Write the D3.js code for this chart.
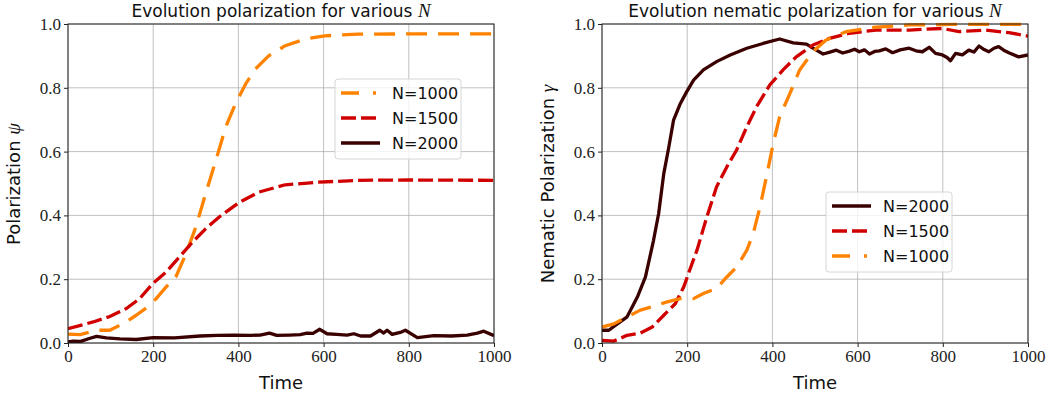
<!DOCTYPE html>
<html>
<head>
<meta charset="utf-8">
<script src="https://cdn.jsdelivr.net/npm/d3@7"></script>
<style>
  body { margin: 0; background: #fff; }
  svg text { fill: #111; }
</style>
</head>
<body>
<div id="chart"></div>
<script>
// tick labels
const xTicks = [0, 200, 400, 600, 800, 1000];
const yTicks = [0, 0.2, 0.4, 0.6, 0.8, 1.0];

// left panel: polarization psi  (time, value)
const polT1000 = [0, 28, 67, 98, 129, 160, 187, 207, 230, 253, 277, 300, 323, 347, 370, 393, 417, 440, 471, 510, 557, 603, 681, 800, 1000];
const polV1000 = [0.028, 0.026, 0.04, 0.04, 0.06, 0.087, 0.113, 0.139, 0.175, 0.207, 0.28, 0.363, 0.468, 0.572, 0.676, 0.75, 0.812, 0.859, 0.90, 0.932, 0.953, 0.963, 0.968, 0.969, 0.969];
const polT1500 = [0, 59, 98, 137, 168, 199, 230, 261, 292, 323, 355, 401, 448, 510, 588, 681, 798, 1000];
const polV1500 = [0.045, 0.066, 0.083, 0.108, 0.139, 0.186, 0.222, 0.269, 0.316, 0.358, 0.395, 0.44, 0.473, 0.496, 0.504, 0.51, 0.511, 0.51];
const polT2000 = [0, 12, 30, 50, 67, 90, 122, 160, 200, 250, 310, 350, 389, 430, 451, 473, 490, 520, 545, 561, 575, 591, 608, 630, 655, 671, 687, 710, 732, 741, 749, 761, 780, 792, 820, 859, 900, 937, 961, 976, 1000];
const polV2000 = [0.003, 0.006, 0.005, 0.014, 0.021, 0.016, 0.013, 0.011, 0.017, 0.016, 0.022, 0.024, 0.025, 0.024, 0.025, 0.031, 0.024, 0.025, 0.026, 0.031, 0.03, 0.043, 0.029, 0.027, 0.025, 0.029, 0.022, 0.022, 0.04, 0.031, 0.04, 0.027, 0.033, 0.04, 0.017, 0.023, 0.022, 0.025, 0.031, 0.037, 0.023];

// right panel: nematic polarization gamma
const nemT2000 = [0, 16, 36, 59, 83, 102, 121, 133, 145, 157, 168, 184, 199, 215, 238, 269, 301, 340, 378, 417, 449, 480, 503, 519, 535, 550, 565, 581, 593, 604, 616, 628, 640, 651, 666, 682, 700, 721, 737, 752, 768, 783, 799, 810, 818, 830, 846, 861, 873, 885, 897, 908, 920, 931, 943, 955, 978, 1000];
const nemV2000 = [0.04, 0.04, 0.06, 0.082, 0.144, 0.207, 0.322, 0.406, 0.531, 0.615, 0.699, 0.751, 0.788, 0.824, 0.856, 0.882, 0.903, 0.924, 0.939, 0.953, 0.941, 0.937, 0.918, 0.906, 0.912, 0.918, 0.909, 0.915, 0.921, 0.913, 0.919, 0.906, 0.914, 0.916, 0.922, 0.91, 0.919, 0.924, 0.916, 0.913, 0.927, 0.908, 0.903, 0.895, 0.885, 0.908, 0.903, 0.918, 0.912, 0.931, 0.92, 0.913, 0.924, 0.929, 0.918, 0.91, 0.897, 0.903];
const nemT1500 = [0, 28, 59, 90, 118, 145, 172, 192, 207, 223, 246, 269, 293, 316, 340, 363, 394, 425, 456, 495, 534, 581, 643, 721, 799, 838, 900, 955, 1000];
const nemV1500 = [0.008, 0.006, 0.024, 0.031, 0.05, 0.087, 0.123, 0.176, 0.233, 0.291, 0.395, 0.49, 0.552, 0.605, 0.678, 0.741, 0.809, 0.856, 0.897, 0.934, 0.955, 0.971, 0.981, 0.981, 0.986, 0.976, 0.981, 0.973, 0.962];
const nemT1000 = [0, 28, 59, 90, 121, 153, 184, 215, 238, 269, 293, 316, 340, 355, 371, 386, 402, 417, 441, 464, 495, 526, 573, 643, 721, 850, 1000];
const nemV1000 = [0.05, 0.06, 0.082, 0.103, 0.115, 0.129, 0.139, 0.139, 0.155, 0.171, 0.207, 0.238, 0.291, 0.343, 0.427, 0.521, 0.626, 0.709, 0.782, 0.856, 0.913, 0.95, 0.976, 0.99, 0.997, 0.999, 0.999];

const styles = {
  "1000": { color: "#ff8200", dash: "21,11", legDash: "18,14,3,20" },
  "1500": { color: "#d10000", dash: "15,5", legDash: "15,5" },
  "2000": { color: "#3a0000", dash: null, legDash: null }
};

const serif = "'Liberation Serif', 'DejaVu Serif', serif";
const sans = "'DejaVu Sans', sans-serif";

const W = 1052, H = 400;
const svg = d3.select("#chart").append("svg").attr("width", W).attr("height", H);

function zip(ts, vs) { return ts.map((t, i) => [t, vs[i]]); }

function panel(opt) {
  const x = d3.scaleLinear().domain([0, 1000]).range([opt.left, opt.left + 426]);
  const y = d3.scaleLinear().domain([0, 1]).range([343, 24]);
  const g = svg.append("g");
  const clipId = "clip" + opt.left;
  svg.append("clipPath").attr("id", clipId).append("rect")
     .attr("x", opt.left).attr("y", 22).attr("width", 426).attr("height", 321);

  // grid
  g.selectAll(".gx").data(xTicks).enter().append("line")
   .attr("x1", d => x(d)).attr("x2", d => x(d)).attr("y1", 24).attr("y2", 343)
   .attr("stroke", "#b0b0b0").attr("stroke-width", 0.8);
  g.selectAll(".gy").data(yTicks).enter().append("line")
   .attr("y1", d => y(d)).attr("y2", d => y(d)).attr("x1", opt.left).attr("x2", opt.left + 426)
   .attr("stroke", "#b0b0b0").attr("stroke-width", 0.8);

  // lines
  const line = d3.line().x(d => x(d[0])).y(d => y(d[1]));
  opt.series.forEach(s => {
    const st = styles[s.n];
    g.append("path").datum(zip(s.t, s.v))
     .attr("d", line).attr("fill", "none")
     .attr("stroke", st.color).attr("stroke-width", 3.3)
     .attr("stroke-dasharray", st.dash)
     .attr("stroke-linejoin", "round")
     .attr("clip-path", `url(#${clipId})`);
  });

  // axes
  const xAxis = d3.axisBottom(x).tickValues(xTicks).tickFormat(d3.format("d")).tickSize(4).tickPadding(3);
  const yAxis = d3.axisLeft(y).tickValues(yTicks).tickFormat(d3.format(".1f")).tickSize(4).tickPadding(3);
  const ga = g.append("g").attr("transform", "translate(0,343)").call(xAxis);
  const gb = g.append("g").attr("transform", `translate(${opt.left},0)`).call(yAxis);
  [ga, gb].forEach(a => {
    a.select(".domain").remove();
    a.selectAll(".tick line").attr("stroke", "#222");
    a.selectAll(".tick text").style("font-family", serif).style("font-size", "17px").style("fill", "#222");
  });
  g.append("rect").attr("x", opt.left).attr("y", 24).attr("width", 426).attr("height", 319)
   .attr("fill", "none").attr("stroke", "#222").attr("stroke-width", 1);

  // title
  const t = g.append("text").attr("x", opt.left + 213).attr("y", 17)
   .attr("text-anchor", "middle").style("font-family", sans).style("font-size", "17px");
  t.append("tspan").text(opt.title + " ");
  t.append("tspan").style("font-family", serif).style("font-style", "italic").style("font-size", "19px").text("N");

  g.append("text").attr("x", opt.left + 213).attr("y", 389)
   .attr("text-anchor", "middle").style("font-family", sans).style("font-size", "18px").text("Time");

  const yl = g.append("text")
   .attr("transform", `translate(${opt.left - 48},184) rotate(-90)`)
   .attr("text-anchor", "middle").style("font-family", sans).style("font-size", "18px");
  yl.append("tspan").text(opt.ylabel + " ");
  yl.append("tspan").style("font-family", serif).style("font-style", "italic").style("font-size", "19px").text(opt.ysym);

  // legend
  const lg = g.append("g").attr("transform", `translate(${opt.legX},${opt.legY})`);
  lg.append("rect").attr("width", 126).attr("height", 80).attr("rx", 3)
   .attr("fill", "#fff").attr("fill-opacity", 0.8).attr("stroke", "#d6d6d6");
  opt.series.forEach((s, i) => {
    const st = styles[s.n];
    const yy = 14 + i * 25;
    lg.append("line").attr("x1", 6).attr("x2", 45).attr("y1", yy).attr("y2", yy)
      .attr("stroke", st.color).attr("stroke-width", 3.3)
      .attr("stroke-dasharray", st.legDash);
    lg.append("text").attr("x", 57).attr("y", yy + 6)
      .style("font-family", sans).style("font-size", "16px").text("N=" + s.n);
  });
}

panel({
  left: 68, title: "Evolution polarization for various", ylabel: "Polarization", ysym: "ψ",
  legX: 335, legY: 79,
  series: [
    { n: "1000", t: polT1000, v: polV1000 },
    { n: "1500", t: polT1500, v: polV1500 },
    { n: "2000", t: polT2000, v: polV2000 }
  ]
});

panel({
  left: 602, title: "Evolution nematic polarization for various", ylabel: "Nematic Polarization", ysym: "γ",
  legX: 826, legY: 192,
  series: [
    { n: "2000", t: nemT2000, v: nemV2000 },
    { n: "1500", t: nemT1500, v: nemV1500 },
    { n: "1000", t: nemT1000, v: nemV1000 }
  ]
});
</script>
</body>
</html>
